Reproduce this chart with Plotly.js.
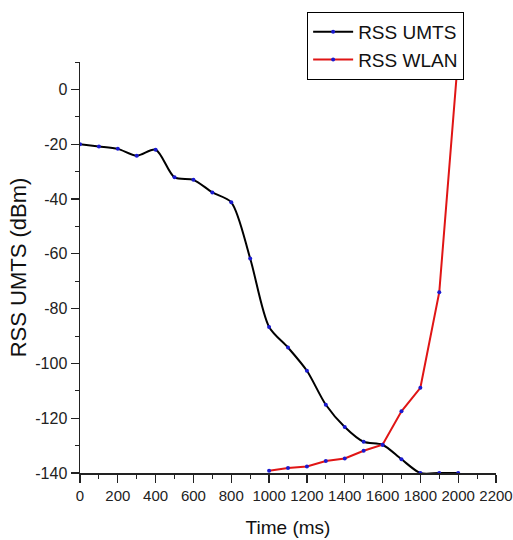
<!DOCTYPE html>
<html>
<head>
<meta charset="utf-8">
<script src="https://cdn.plot.ly/plotly-3.0.1.min.js"></script>
<style>html,body{margin:0;padding:0;background:#fff;}#chart{width:513px;height:540px;}</style>
</head>
<body>
<div id="chart"></div>
<script>
var timeMs = [0, 100, 200, 300, 400, 500, 600, 700, 800, 900, 1000, 1100, 1200, 1300, 1400, 1500, 1600, 1700, 1800, 1900, 2000];
var rssUmts = [-20, -20.8, -21.7, -24.2, -22, -32.1, -33, -37.6, -41.2, -61.7, -86.7, -94.2, -102.7, -115.1, -123.2, -128.6, -129.7, -135, -140, -140, -140];
var timeWlanMs = [1000, 1100, 1200, 1300, 1400, 1500, 1600, 1700, 1800, 1900, 2000];
var rssWlan = [-139.2, -138.2, -137.6, -135.6, -134.7, -131.9, -129.7, -117.5, -108.9, -74, 12];
var seriesNames = ['RSS UMTS', 'RSS WLAN'];
var xTickVals = [0, 200, 400, 600, 800, 1000, 1200, 1400, 1600, 1800, 2000, 2200];
var yTickVals = [0, -20, -40, -60, -80, -100, -120, -140];

var FONT = 'Liberation Sans, Arial, sans-serif';
var traces = [
  {
    x: timeMs, y: rssUmts, name: seriesNames[0], type: 'scatter', mode: 'lines+markers',
    line: {color: '#000000', width: 2, shape: 'spline', smoothing: 0.8},
    marker: {color: '#1a1ad0', size: 4}
  },
  {
    x: timeWlanMs, y: rssWlan, name: seriesNames[1], type: 'scatter', mode: 'lines+markers',
    line: {color: '#e01515', width: 2},
    marker: {color: '#1a1ad0', size: 4}
  }
];
var layout = {
  width: 513, height: 540,
  margin: {l: 80, r: 17, t: 62, b: 67},
  paper_bgcolor: '#ffffff', plot_bgcolor: '#ffffff',
  font: {family: FONT, color: '#1a1a1a'},
  showlegend: true,
  legend: {
    x: 0.546, y: 1.122, xanchor: 'left', yanchor: 'top',
    bordercolor: '#000', borderwidth: 1, bgcolor: '#fff',
    font: {family: FONT, size: 19, color: '#111'},
    tracegroupgap: 0, itemwidth: 40
  },
  xaxis: {
    range: [0, 2200], tickvals: xTickVals, ticktext: xTickVals.map(String), tickangle: 0,
    showgrid: false, zeroline: false, ticklabeloverflow: 'allow',
    showline: true, linecolor: '#222', linewidth: 1.5,
    ticks: 'outside', ticklen: 8, tickwidth: 1.2, tickcolor: '#222',
    minor: {dtick: 100, ticks: 'outside', ticklen: 4, tickwidth: 1, tickcolor: '#222', showgrid: false},
    tickfont: {family: FONT, size: 15, color: '#222'},
    title: {text: 'Time (ms)', font: {family: FONT, size: 19, color: '#111'}, standoff: 18}
  },
  yaxis: {
    range: [-140, 10], tickvals: yTickVals, ticktext: yTickVals.map(String),
    showgrid: false, zeroline: false, ticklabeloverflow: 'allow',
    showline: true, linecolor: '#222', linewidth: 1.5,
    ticks: 'outside', ticklen: 8, tickwidth: 1.2, tickcolor: '#222',
    minor: {dtick: 10, ticks: 'outside', ticklen: 4, tickwidth: 1, tickcolor: '#222', showgrid: false},
    tickfont: {family: FONT, size: 16, color: '#222'},
    title: {text: 'RSS UMTS (dBm)', font: {family: FONT, size: 22, color: '#111'}, standoff: 2}
  }
};
Plotly.newPlot('chart', traces, layout, {displayModeBar: false, staticPlot: true});
</script>
</body>
</html>
